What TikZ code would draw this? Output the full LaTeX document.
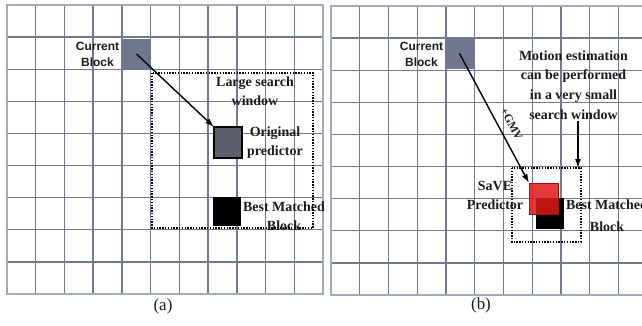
\documentclass[tikz,border=0pt]{standalone}
\usepackage{fontspec}
\setmainfont{Liberation Serif}
\newfontfamily\sansf{Liberation Sans}
\usetikzlibrary{arrows.meta}
\definecolor{gridc}{HTML}{74788F}
\definecolor{edgec}{HTML}{A4A9BC}
\definecolor{curc}{HTML}{70768E}
\definecolor{origc}{HTML}{5B5F70}
\definecolor{redc}{HTML}{E11616}
\definecolor{redline}{HTML}{A01010}
\definecolor{txt}{HTML}{1A1A1A}
\begin{document}
\begin{tikzpicture}[x=1bp,y=-1bp,
  gridline/.style={draw=gridc, line width=1.4bp},
  edgeline/.style={draw=edgec, line width=1.4bp},
  blk/.style={inner sep=0pt, outer sep=0pt, minimum width=29bp, minimum height=31bp},
  win/.style={draw=black, line width=1.3bp, dash pattern=on 1.4bp off 1.4bp},
  arr/.style={draw=black, line width=1.4bp, -{Latex[length=9bp,width=6bp]}},
  lab/.style={text=txt, align=center, inner sep=0pt, font=\fontsize{14}{19}\selectfont\bfseries},
  slab/.style={text=txt, align=center, inner sep=0pt, font=\sansf\fontsize{12}{16}\selectfont\bfseries},
  captxt/.style={text=txt, inner sep=0pt, font=\fontsize{17}{20}\selectfont}]
\useasboundingbox (0,0) rectangle (642,325);
\fill[white] (0,0) rectangle (642,325);
% left grid
\foreach \i in {1,...,10} \draw[gridline] ({7+\i*28.727},5) -- ({7+\i*28.727},294);
\foreach \j in {1,...,8} \draw[gridline] (7,{5+\j*32.11}) -- (323,{5+\j*32.11});
\draw[edgeline] (7,5) rectangle (323,294);
% right grid
\foreach \i in {1,...,10} \draw[gridline] ({331+\i*28.75},6) -- ({331+\i*28.75},295);
\foreach \j in {1,...,8} \draw[gridline] (331,{6+\j*32.11}) -- (647,{6+\j*32.11});
\draw[edgeline] (331,6) rectangle (648,295);

% ---- panel (a)
\node[blk, fill=curc] (curA) at (136.5,54) {};
\node[slab] (curAl) at (97.5,54) {Current\\Block};
\node[blk, fill=origc, draw=black, line width=1.4bp, minimum width=28bp] (origA) at (228,142.5) {};
\node[lab] (origAl) at (275,143) {Original\\predictor};
\node[blk, fill=black, minimum width=28bp, minimum height=29bp] (bestA) at (227,211.5) {};
\node[lab] (bestAl) at (284,216) {Best Matched\\Block};
\draw[win] (152,73) rectangle (313,228);
\node[lab] (winAl) at (255,91) {Large search\\window};
\draw[arr] (curA.center) -- (origA.north west);
\node[captxt] (capA) at (163,306) {(a)};

% ---- panel (b)
\node[blk, fill=curc] (curB) at (459.5,53.5) {};
\node[slab] (curBl) at (421.5,54) {Current\\Block};
\node[blk, fill=black, minimum width=28bp] (bestB) at (550,213.5) {};
\node[blk, fill=redc, fill opacity=0.85, draw=redline, line width=0.8bp] (redB) at (543.5,198.5) {};
\draw[win] (512,168) rectangle (581,242);
\coordinate (winBtop) at (578,168);
\coordinate (motArrS) at (578,121);
\node[lab] (saveB) at (495,195) {SaVE\\Predictor};
\node[lab, font=\fontsize{14}{22}\selectfont\bfseries] (bestBl) at (607,216) {Best Matched\\Block};
\node[lab, font=\fontsize{14}{19.7}\selectfont\bfseries] (motB) at (573.5,85) {Motion estimation\\can be performed\\in a very small\\search window};
\draw[arr] (curB.center) -- node[pos=0.59, sloped, above=8bp, inner sep=0pt, text=txt, font=\fontsize{11.5}{12}\selectfont\bfseries] (gmv) {+GMV} (redB.north west);
\draw[arr] (motArrS) -- (winBtop);
\node[captxt] (capB) at (481,305) {(b)};
\end{tikzpicture}
\end{document}
